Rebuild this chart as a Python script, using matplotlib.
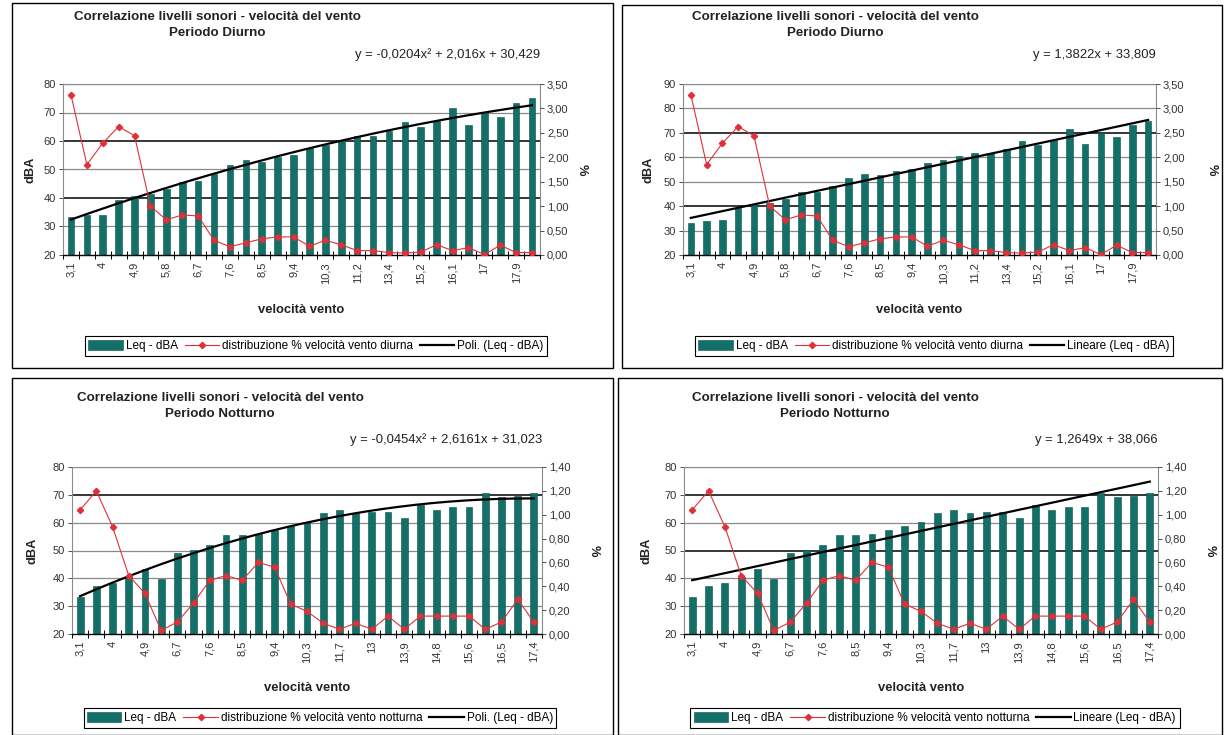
import numpy as np
import matplotlib
matplotlib.use("Agg")
import matplotlib.pyplot as plt
from matplotlib.patches import Rectangle, Patch
from matplotlib.lines import Line2D
from matplotlib.ticker import FixedLocator, FuncFormatter

# ---------------- data ----------------
speed_day = ["3,1", "3,6", "4", "4,5", "4,9", "5,4", "5,8", "6,3", "6,7", "7,2",
             "7,6", "8", "8,5", "8,9", "9,4", "9,8", "10,3", "10,7", "11,2", "12,1",
             "13,4", "14,3", "15,2", "15,6", "16,1", "16,5", "17", "17,4", "17,9", "18,3"]
leq_day = [33.2, 34.0, 34.2, 39.3, 40.8, 41.3, 43.0, 45.6, 45.8, 48.3,
           51.7, 53.3, 52.8, 54.4, 55.2, 57.5, 58.7, 60.5, 61.6, 61.8,
           63.4, 66.5, 65.0, 67.0, 71.5, 65.5, 70.0, 68.5, 73.2, 75.0]
pct_day = [3.28, 1.85, 2.29, 2.63, 2.44, 1.00, 0.72, 0.82, 0.80, 0.30,
           0.17, 0.25, 0.33, 0.37, 0.37, 0.18, 0.30, 0.21, 0.09, 0.09,
           0.05, 0.04, 0.06, 0.21, 0.09, 0.15, 0.01, 0.20, 0.05, 0.05]

speed_night = ["3,1", "3,6", "4", "4,5", "4,9", "5,8", "6,7", "7,2", "7,6", "8",
               "8,5", "8,9", "9,4", "9,8", "10,3", "11,2", "11,7", "12,5", "13", "13,4",
               "13,9", "14,3", "14,8", "15,2", "15,6", "16,1", "16,5", "17", "17,4"]
leq_night = [33.4, 37.2, 38.4, 40.5, 43.2, 39.6, 49.2, 50.1, 52.1, 55.5,
             55.5, 55.8, 57.3, 58.7, 60.3, 63.5, 64.7, 63.4, 63.9, 64.0,
             61.5, 66.5, 64.7, 65.5, 65.5, 70.6, 69.4, 69.6, 70.6]
pct_night = [1.04, 1.20, 0.90, 0.49, 0.34, 0.03, 0.10, 0.26, 0.45, 0.49,
             0.45, 0.60, 0.56, 0.25, 0.19, 0.09, 0.04, 0.09, 0.04, 0.15,
             0.04, 0.15, 0.15, 0.15, 0.15, 0.04, 0.10, 0.29, 0.10]

# trendline coefficients (as printed on the charts)
poly_day = [-0.0204, 2.016, 30.429]
lin_day = [1.3822, 33.809]
poly_night = [-0.0454, 2.6161, 31.023]
lin_night = [1.2649, 38.066]

title_1 = "Correlazione livelli sonori - velocità del vento"
title_day = "Periodo Diurno"
title_night = "Periodo Notturno"
eq_poly_day = "y = -0,0204x² + 2,016x + 30,429"
eq_lin_day = "y = 1,3822x + 33,809"
eq_poly_night = "y = -0,0454x² + 2,6161x + 31,023"
eq_lin_night = "y = 1,2649x + 38,066"

# ---------------- style ----------------
W, H = 1228, 735
plt.rcParams['font.family'] = ['Liberation Sans', 'DejaVu Sans']
fig = plt.figure(figsize=(W / 100, H / 100), dpi=100)
fig.patch.set_facecolor('white')

TEAL = '#127068'
RED = '#e0303a'
GRID_GRAY = '#8a8a8a'
TXT = '#222222'
TICK_FS = 8.0


def fx(x):
    return x / W


def fy(y):
    return 1 - y / H


def comma(v, pos=None):
    return ("%.2f" % v).replace('.', ',')


def panel(box, speeds, leq, pct, coef, eq, period, ylim, pmax, dark_grid,
          title_cx, title_y, eq_y, ylab_x, pct_x, xlab_y, leg_c, dist_label, trend_label):
    l, r, t, b = box
    ax = fig.add_axes([fx(l), fy(b), fx(r - l), (b - t) / H])
    n = len(leq)
    x = np.arange(1, n + 1)
    ax.set_xlim(0.5, n + 0.5)
    ax.set_ylim(*ylim)
    # gridlines
    for g in range(ylim[0] + 10, ylim[1] + 1, 10):
        col = 'black' if g in dark_grid else GRID_GRAY
        ax.axhline(g, color=col, lw=1.1 if g in dark_grid else 0.9, zorder=0.5)
    ax.bar(x, leq, width=0.42, color=TEAL, edgecolor='#0a4f49', linewidth=0.4, zorder=2)
    xt = np.linspace(1, n, 200)
    ax.plot(xt, np.polyval(coef, xt), color='black', lw=1.6, zorder=3)
    # axes styling
    for s in ['left', 'top', 'right']:
        ax.spines[s].set_color(GRID_GRAY)
        ax.spines[s].set_linewidth(0.8)
    ax.spines['bottom'].set_color('black')
    ax.spines['bottom'].set_linewidth(1.0)
    ax.set_yticks(range(ylim[0], ylim[1] + 1, 10))
    ax.tick_params(axis='y', direction='out', length=3, width=0.6, labelsize=TICK_FS,
                   colors='#333333', pad=2)
    ax.xaxis.set_major_locator(FixedLocator(x[::2]))
    ax.set_xticklabels(speeds[::2], rotation=90, fontsize=TICK_FS, color='#333333')
    ax.xaxis.set_minor_locator(FixedLocator(np.arange(0.5, n + 1, 1.0)))
    ax.tick_params(axis='x', which='major', length=0, pad=5)
    ax.tick_params(axis='x', which='minor', direction='inout', length=6, width=0.7, color='black')
    # secondary axis
    ax2 = ax.twinx()
    ax2.set_ylim(0, pmax)
    ax2.plot(x, pct, color=RED, lw=0.8, marker='D', ms=3.2, mfc=RED, mec=RED, zorder=4)
    step = 0.5 if pmax > 2 else 0.2
    ax2.set_yticks(np.round(np.arange(0, pmax + 1e-9, step), 2))
    ax2.yaxis.set_major_formatter(FuncFormatter(comma))
    ax2.tick_params(axis='y', direction='out', length=3, width=0.6, labelsize=TICK_FS,
                    colors='#333333', pad=2)
    for s in ['left', 'top', 'right', 'bottom']:
        ax2.spines[s].set_visible(False)
    # texts
    fig.text(fx(title_cx), fy(title_y), title_1, ha='center', va='center',
             fontsize=9.6, fontweight='bold', color=TXT)
    fig.text(fx(title_cx), fy(title_y + 16), period, ha='center', va='center',
             fontsize=9.6, fontweight='bold', color=TXT)
    fig.text(fx(r), fy(eq_y), eq, ha='right', va='center', fontsize=9.4, color=TXT)
    fig.text(fx(ylab_x), fy((t + b) / 2), "dBA", rotation=90, ha='center', va='center',
             fontsize=9.2, fontweight='bold', color=TXT)
    fig.text(fx(pct_x), fy((t + b) / 2), "%", rotation=270, ha='center', va='center',
             fontsize=9.2, fontweight='bold', color=TXT)
    fig.text(fx((l + r) / 2), fy(xlab_y), "velocità vento", ha='center', va='center',
             fontsize=9.4, fontweight='bold', color=TXT)
    handles = [Patch(facecolor=TEAL, edgecolor='#0a4f49', linewidth=0.4),
               Line2D([], [], color=RED, lw=0.8, marker='D', ms=3.2),
               Line2D([], [], color='black', lw=1.6)]
    labels = ["Leq - dBA", dist_label, trend_label]
    leg = fig.legend(handles, labels, loc='center', bbox_to_anchor=(fx(leg_c[0]), fy(leg_c[1])),
                     ncol=3, fontsize=8.5, frameon=True, fancybox=False, edgecolor='black',
                     framealpha=1, borderpad=0.3, handlelength=2.9, handleheight=0.9,
                     columnspacing=0.6, handletextpad=0.25)
    leg.get_frame().set_linewidth(0.8)
    return ax


panel((63, 540, 84, 255), speed_day, leq_day, pct_day, poly_day, eq_poly_day, title_day,
      (20, 80), 3.5, (60, 40), 217, 17, 55, 30, 582, 310, (316, 346),
      "distribuzione % velocità vento diurna", "Poli. (Leq - dBA)")
panel((683, 1156, 84, 255), speed_day, leq_day, pct_day, lin_day, eq_lin_day, title_day,
      (20, 90), 3.5, (70, 40), 835, 17, 55, 648, 1212, 310, (934, 346),
      "distribuzione % velocità vento diurna", "Lineare (Leq - dBA)")
panel((72, 542, 467, 634), speed_night, leq_night, pct_night, poly_night, eq_poly_night, title_night,
      (20, 80), 1.4, (70,), 220, 398, 440, 33, 594, 688, (320, 718),
      "distribuzione % velocità vento notturna", "Poli. (Leq - dBA)")
panel((684, 1158, 467, 634), speed_night, leq_night, pct_night, lin_night, eq_lin_night, title_night,
      (20, 80), 1.4, (70, 50), 835, 398, 440, 646, 1210, 688, (935, 718),
      "distribuzione % velocità vento notturna", "Lineare (Leq - dBA)")

# chart frames
for (x0, y0, x1, y1) in [(12, 3, 613, 368), (622, 5, 1222, 368),
                         (12, 378, 613, 735), (618, 378, 1222, 735)]:
    fig.add_artist(Rectangle((fx(x0), fy(y1)), fx(x1 - x0), (y1 - y0) / H,
                             transform=fig.transFigure, fill=False,
                             edgecolor='black', linewidth=1.0))

fig.savefig("out.png", dpi=100, facecolor='white')
